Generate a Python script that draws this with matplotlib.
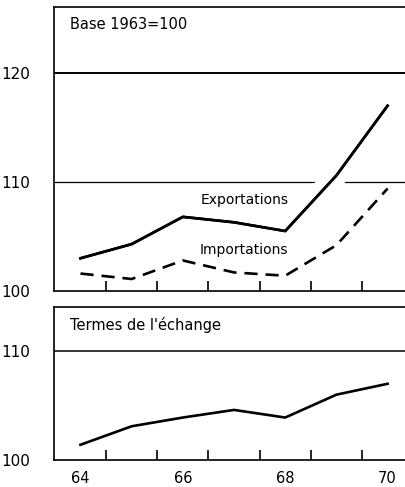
import numpy as np
import matplotlib
matplotlib.use('Agg')
import matplotlib.pyplot as plt
import matplotlib.patheffects as pe

years = [64, 65, 66, 67, 68, 69, 70]
exportations = [103.0, 104.3, 106.8, 106.3, 105.5, 110.6, 117.0]
importations = [101.6, 101.1, 102.8, 101.7, 101.4, 104.2, 109.4]
termes = [101.4, 103.1, 103.9, 104.6, 103.9, 106.0, 107.0]
xlabels = ['64', '66', '68', '70']

plt.rcParams['font.family'] = 'DejaVu Sans'

fig = plt.figure(figsize=(4.05, 4.87), dpi=100)
ax1 = fig.add_axes([0.133, 0.4025, 0.867, 0.583])
ax2 = fig.add_axes([0.133, 0.0554, 0.867, 0.314])

def style(ax, ymax, yt):
    ax.set_xlim(63.48, 70.34)
    ax.set_ylim(100, ymax)
    ax.spines['right'].set_visible(False)
    for s in ['left', 'top', 'bottom']:
        ax.spines[s].set_linewidth(1.2)
    ax.set_yticks(yt)
    ax.set_yticklabels([str(v) for v in yt])
    ax.tick_params(axis='y', length=0, pad=38, labelsize=11)
    for lab in ax.get_yticklabels():
        lab.set_horizontalalignment('left')
    ax.set_xticks([64.5, 65.5, 66.5, 67.5, 68.5, 69.5], minor=True)
    ax.tick_params(axis='x', which='minor', direction='in', length=7, width=1.2)
    ax.tick_params(axis='x', which='major', length=0, pad=8, labelsize=10.5)

style(ax1, 126.05, [100, 110, 120])
ax1.set_xticks([64, 66, 68, 70])
ax1.set_xticklabels([])
ax1.axhline(120, color='black', lw=1.4, zorder=1)
ax1.axhline(110, color='black', lw=0.9, zorder=1)
ax1.plot(years, exportations, color='black', lw=1.9, zorder=3,
         path_effects=[pe.withStroke(linewidth=16, foreground='white'), pe.Normal()])
ax1.plot(years, importations, color='black', lw=1.9, ls=(0, (5, 3)), zorder=4)
ax1.text(67.2, 108.35, 'Exportations', ha='center', va='center', fontsize=10, zorder=5)
ax1.text(67.2, 103.76, 'Importations', ha='center', va='center', fontsize=10, zorder=5)
ax1.text(0.046, 0.937, 'Base 1963=100', transform=ax1.transAxes, ha='left', va='center', fontsize=10.5)

style(ax2, 114.04, [100, 110])
ax2.set_xticks([64, 66, 68, 70])
ax2.set_xticklabels(xlabels)
ax2.axhline(110, color='black', lw=1.1, zorder=1)
ax2.plot(years, termes, color='black', lw=1.9, zorder=3)
ax2.text(0.046, 0.88, "Termes de l'échange", transform=ax2.transAxes, ha='left', va='center', fontsize=10.5)

fig.savefig('out.png', dpi=100)
